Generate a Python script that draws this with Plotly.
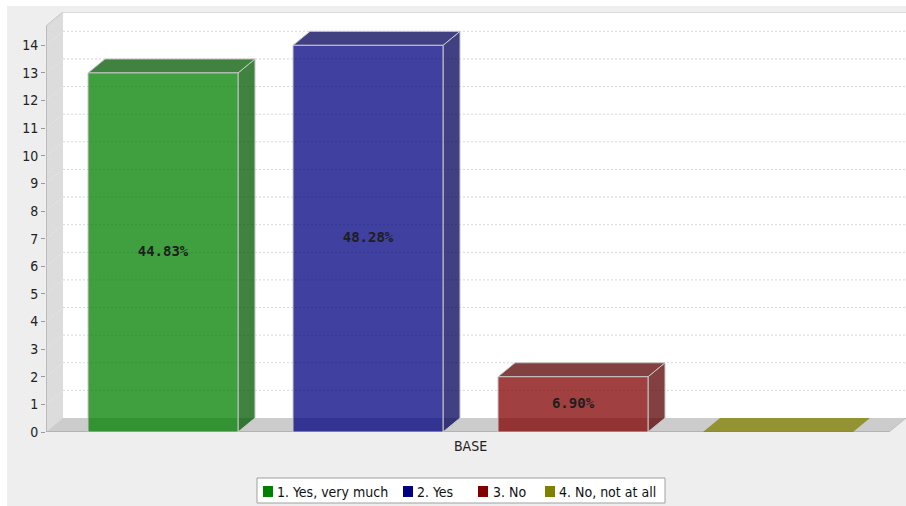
import plotly.graph_objects as go

# ---------------- data ----------------
category = "BASE"
series_names = ["1. Yes, very much", "2. Yes", "3. No", "4. No, not at all"]
values = [13, 14, 2, 0]
series_rgb = [(0, 128, 0), (0, 0, 128), (128, 0, 0), (128, 128, 0)]
y_ticks = list(range(0, 15))

# ---------------- layout geometry (style) ----------------
W, H = 906, 506
L, R, T, B = 46, 0, 12, 74
PW, PH = W - L - R, H - T - B
STEP_PX = 205          # distance between series slots
BAR_PX = 150           # bar front width
FIRST_PX = 163         # first bar centre (image px)
DEPTH_X, DEPTH_Y = 17, 14
FLOOR_RIGHT_PX = 889
ALPHA = 0.75

front_top = max(values) * 1.05
ppu = (PH - DEPTH_Y) / front_top
DY = DEPTH_Y / ppu
DX = DEPTH_X / STEP_PX
x_lo = (L - FIRST_PX) / STEP_PX
x_hi = (W - R - FIRST_PX) / STEP_PX
x_floor_r = (FLOOR_RIGHT_PX - FIRST_PX) / STEP_PX
y_hi = front_top + DY
half = BAR_PX / STEP_PX / 2


def rgba(c, a=ALPHA):
    return "rgba(%d,%d,%d,%.3f)" % (c[0], c[1], c[2], a)


def darker(c):
    return tuple(int(v * 0.7) for v in c)


def px_x(p):
    return (p - L) / PW


def px_y(p):
    return (H - B - p) / PH


FONT = "DejaVu Sans Condensed, DejaVu Sans, sans-serif"
OUTLINE = "#c8c8c8"

shapes = []
# outer grey chart background (white sliver on left/top)
shapes.append(dict(type="rect", xref="paper", yref="paper", layer="below",
                   x0=px_x(7), x1=px_x(W + 5), y0=px_y(6), y1=px_y(H + 5),
                   fillcolor="#eeeeee", line=dict(width=0)))
# back wall
shapes.append(dict(type="rect", xref="x", yref="y", layer="below",
                   x0=x_lo + DX, x1=x_hi + 1, y0=DY, y1=y_hi,
                   fillcolor="white", line=dict(width=0)))
# left wall
shapes.append(dict(type="path", xref="x", yref="y", layer="below",
                   path="M %f,%f L %f,%f L %f,%f L %f,%f Z" % (
                       x_lo, 0, x_lo, front_top, x_lo + DX, y_hi, x_lo + DX, DY),
                   fillcolor="#dcdcdc", line=dict(width=0)))
# floor
shapes.append(dict(type="path", xref="x", yref="y", layer="below",
                   path="M %f,%f L %f,%f L %f,%f L %f,%f Z" % (
                       x_lo, 0, x_floor_r, 0, x_floor_r + DX, DY, x_lo + DX, DY),
                   fillcolor="#cccccc", line=dict(width=0)))
# grid lines on back wall and left wall
for t in y_ticks[1:]:
    shapes.append(dict(type="line", xref="x", yref="y", layer="below",
                       x0=x_lo + DX, x1=x_hi + 1, y0=t + DY, y1=t + DY,
                       line=dict(color="#d6d6d6", width=1, dash="2px,2px")))
    shapes.append(dict(type="line", xref="x", yref="y", layer="below",
                       x0=x_lo, x1=x_lo + DX, y0=t, y1=t + DY,
                       line=dict(color="#e8e8e8", width=1, dash="2px,2px")))
# wall borders
shapes.append(dict(type="line", xref="x", yref="y", layer="below",
                   x0=x_lo + DX, x1=x_hi + 1, y0=y_hi, y1=y_hi,
                   line=dict(color="#b8b8b8", width=1)))
shapes.append(dict(type="line", xref="x", yref="y", layer="below",
                   x0=x_lo, x1=x_lo + DX, y0=front_top, y1=y_hi,
                   line=dict(color="#c4c4c4", width=1)))
shapes.append(dict(type="line", xref="x", yref="y", layer="below",
                   x0=x_floor_r, x1=x_floor_r + DX, y0=0, y1=DY,
                   line=dict(color="#bdbdbd", width=1)))
# axis lines
shapes.append(dict(type="line", xref="x", yref="y", layer="below",
                   x0=x_lo, x1=x_lo, y0=0, y1=front_top,
                   line=dict(color="#9a9a9a", width=1)))
shapes.append(dict(type="line", xref="x", yref="y", layer="below",
                   x0=x_lo, x1=x_floor_r, y0=0, y1=0,
                   line=dict(color="#9a9a9a", width=1)))

fig = go.Figure()

total = sum(values)
for i, (name, v, c) in enumerate(zip(series_names, values, series_rgb)):
    x0, x1 = i - half, i + half
    dk = darker(c)
    top_col = rgba(c) if v == 0 else rgba(dk)
    # side face
    if v > 0:
        fig.add_trace(go.Scatter(
            x=[x1, x1 + DX, x1 + DX, x1, x1], y=[0, DY, v + DY, v, 0],
            mode="lines", fill="toself", fillcolor=rgba(dk),
            line=dict(color=OUTLINE, width=1), hoverinfo="skip", showlegend=False))
    # top face
    fig.add_trace(go.Scatter(
        x=[x0, x1, x1 + DX, x0 + DX, x0], y=[v, v, v + DY, v + DY, v],
        mode="lines", fill="toself", fillcolor=top_col,
        line=dict(color=OUTLINE if v > 0 else "rgba(0,0,0,0)", width=1),
        hoverinfo="skip", showlegend=False))
    # front face
    if v > 0:
        fig.add_trace(go.Scatter(
            x=[x0, x1, x1, x0, x0], y=[0, 0, v, v, 0],
            mode="lines", fill="toself", fillcolor=rgba(c),
            line=dict(color=OUTLINE, width=1), hoverinfo="skip", showlegend=False,
            name=name))
        fig.add_trace(go.Scatter(
            x=[i], y=[v / 2], mode="text",
            text=["%.2f%%" % (v / total * 100)],
            textfont=dict(family="DejaVu Sans Mono, monospace", size=14,
                          color="#1e1e1e", weight="bold"),
            textposition="middle center", hoverinfo="skip", showlegend=False))

# ---------------- legend (manual, JFreeChart style) ----------------
annotations = []
shapes.append(dict(type="rect", xref="paper", yref="paper",
                   x0=px_x(257), x1=px_x(665), y0=px_y(478), y1=px_y(503),
                   fillcolor="white", line=dict(color="#a0a0a0", width=1)))
legend_sq_px = [263, 403, 478, 545]
legend_txt_px = [275, 415, 491, 557]
for name, c, sx, tx in zip(series_names, series_rgb, legend_sq_px, legend_txt_px):
    shapes.append(dict(type="rect", xref="paper", yref="paper",
                       x0=px_x(sx), x1=px_x(sx + 10), y0=px_y(486), y1=px_y(497),
                       fillcolor="rgb(%d,%d,%d)" % c, line=dict(width=0)))
    annotations.append(dict(xref="paper", yref="paper", x=px_x(tx), y=px_y(491.5),
                            xanchor="left", yanchor="middle", showarrow=False,
                            text=name, font=dict(family=FONT, size=14, color="#111111")))

fig.update_layout(
    width=W, height=H,
    margin=dict(l=L, r=R, t=T, b=B, pad=0),
    paper_bgcolor="white", plot_bgcolor="rgba(0,0,0,0)",
    showlegend=False,
    shapes=shapes, annotations=annotations,
    xaxis=dict(range=[x_lo, x_hi], tickvals=[(len(values) - 1) / 2], ticktext=[category],
               showgrid=False, zeroline=False, showline=False, ticks="",
               ticklabelstandoff=4,
               tickfont=dict(family=FONT, size=14, color="#222222"), fixedrange=True),
    yaxis=dict(range=[0, y_hi], tickvals=y_ticks, showgrid=False, zeroline=False,
               showline=False, ticks="outside", ticklen=4, tickcolor="#9a9a9a",
               tickfont=dict(family=FONT, size=14, color="#222222"), fixedrange=True),
)

fig.write_html("out.html", config={"displayModeBar": False},
               post_script="document.body.style.margin='0';document.body.style.overflow='hidden';")
